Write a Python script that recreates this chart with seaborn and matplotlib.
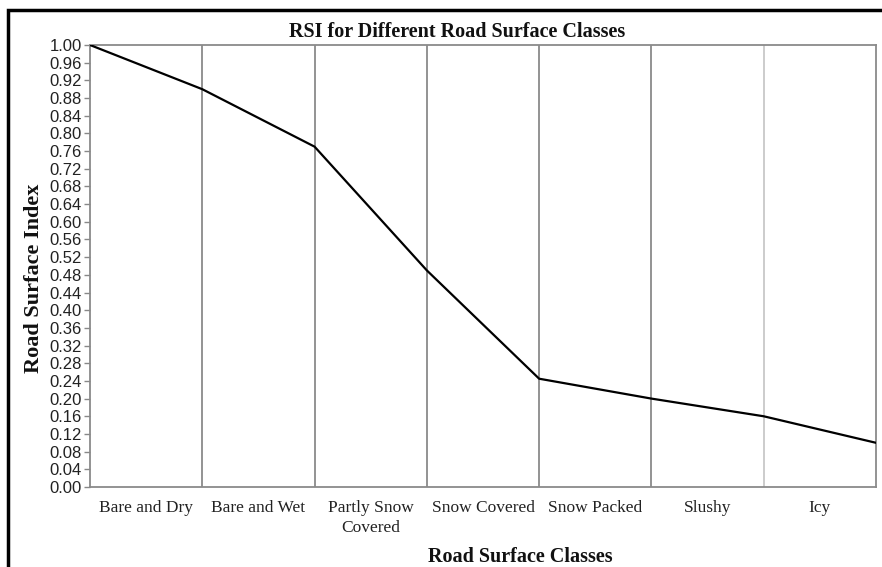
import matplotlib
matplotlib.use("Agg")
import matplotlib.pyplot as plt
import seaborn as sns
import pandas as pd
import numpy as np
from matplotlib.patches import Rectangle
from matplotlib.ticker import FormatStrFormatter

categories = ["Bare and Dry", "Bare and Wet", "Partly Snow\nCovered", "Snow Covered",
              "Snow Packed", "Slushy", "Icy"]
boundary_pos = [0, 1, 2, 3, 4, 5, 6, 7]
rsi_values = [1.00, 0.90, 0.77, 0.49, 0.245, 0.20, 0.16, 0.10]
y_ticks = [round(0.04 * i, 2) for i in range(26)]

sns.set_theme(style="white")
plt.rcParams["font.family"] = ["Liberation Serif", "DejaVu Serif"]

fig = plt.figure(figsize=(8.82, 5.67), dpi=100)
ax = fig.add_axes([90 / 882, 1 - 487 / 567, (876 - 90) / 882, (487 - 45) / 567])

df = pd.DataFrame({"pos": boundary_pos, "rsi": rsi_values})

# vertical separators at class boundaries
for i, p in enumerate(boundary_pos[1:-1]):
    col = "#c8c8c8" if i == 5 else "#8a8a8a"
    ax.axvline(p, color=col, lw=1.3, zorder=1)

sns.lineplot(data=df, x="pos", y="rsi", ax=ax, color="black", lw=1.6, zorder=3)

ax.set_xlim(0, 7)
ax.set_ylim(0, 1.0)
ax.set_yticks(y_ticks)
ax.yaxis.set_major_formatter(FormatStrFormatter("%.2f"))
ax.set_xticks([i + 0.5 for i in range(len(categories))])
ax.set_xticklabels(categories, fontsize=12.5, family="Liberation Serif", color="#222222",
                   linespacing=1.35)
for lbl in ax.get_yticklabels():
    lbl.set_family("Liberation Sans")
    lbl.set_fontsize(12)
    lbl.set_color("#222222")
ax.tick_params(axis="y", which="major", length=4, width=1, color="#888888", pad=2, left=True)
ax.tick_params(axis="x", which="major", length=0, pad=9, bottom=False)

for s in ax.spines.values():
    s.set_color("#8a8a8a")
    s.set_linewidth(1.3)
    s.set_visible(True)

ax.set_title("RSI for Different Road Surface Classes", fontsize=14.5, fontweight="bold",
             family="Liberation Serif", pad=6, color="#111111", x=0.467)
ax.set_xlabel("Road Surface Classes", fontsize=14.5, fontweight="bold",
              family="Liberation Serif", color="#111111")
ax.xaxis.set_label_coords(0.547, -0.135)
ax.set_ylabel("Road Surface Index", fontsize=16, fontweight="bold",
              family="Liberation Serif", color="#111111")
ax.yaxis.set_label_coords(-0.058, 0.473)
ax.grid(False)

# outer black frame (cropped at right/bottom)
fig.patches.append(Rectangle((8 / 882, -0.2), 2.0, 1 - 10 / 567 + 0.2,
                             transform=fig.transFigure, fill=False,
                             edgecolor="black", lw=2.5, zorder=10))

fig.savefig("out.png", dpi=100, facecolor="white")
